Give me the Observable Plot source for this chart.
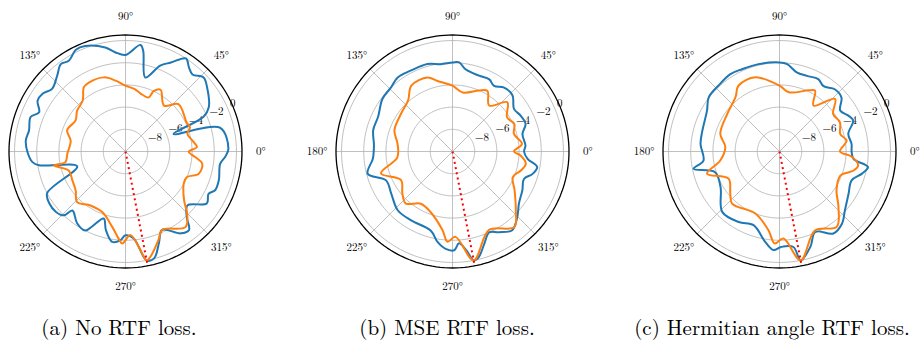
<!DOCTYPE html>
<html><head><meta charset="utf-8">
<script src="https://cdn.jsdelivr.net/npm/d3@7"></script>
<script src="https://cdn.jsdelivr.net/npm/@observablehq/plot@0.6"></script>
<style>
body{margin:0;background:#fff;}
#fig{position:relative;width:921px;height:342px;overflow:hidden;background:#fff;}
.panel{position:absolute;top:1px;width:300px;height:300px;}
.panel svg{max-width:none !important;width:300px;height:300px;}
.cap{position:absolute;width:400px;text-align:center;font-family:"Latin Modern Roman","CMU Serif","Liberation Serif","DejaVu Serif","Tinos","Noto Serif","Nimbus Roman","FreeSerif","Times New Roman","Times",serif;font-size:21px;line-height:22px;top:315px;color:#000;white-space:nowrap;}
</style></head><body><div id="fig"></div>
<script>
// ---- data: [angle in degrees, gain in dB] ----
const aBlue = [[1.5,-0.72],[14,-1.2],[20,-5.4],[24,-2.3],[28,-1.5],[38,-0.66],[43.5,-0.3],[49,-0.8],[53,-0.5],[57,0.0],[63,-1.0],[68,-1.65],[75,-3.1],[80,-0.8],[82,-0.3],[90,-1.3],[96,-1.0],[101,-0.45],[111,0.18],[116,0.2],[122,-0.36],[126.5,-0.2],[132,-0.8],[139.5,-1.3],[145,-0.9],[150,-0.85],[155.6,-1.45],[160,-0.9],[167.7,-1.1],[173.7,-0.96],[180.4,-1.17],[186.5,-1.56],[189,-2.1],[197,-5.45],[208,-2.0],[214,-1.7],[221,-1.7],[226,-2.0],[228,-2.85],[236,-2.2],[243,-2.0],[246,-2.6],[252,-3.65],[256,-2.7],[261.6,-1.77],[266.8,-2.0],[270,-2.45],[275.5,-2.1],[281,0.0],[285,-0.03],[290,-1.2],[295,-2.2],[304,-1.1],[309,-0.9],[313,-1.9],[319,-2.6],[327.4,-1.3],[333,-1.6],[336.6,-1.2],[343,-1.2],[352.6,-1.4],[357,-1.0]];
const aOrange = [[0,-4.3],[3.5,-3.55],[9.4,-3.9],[16,-4.2],[20.5,-3.8],[25.4,-3.9],[41.8,-3.6],[50,-4.6],[60.4,-3.6],[65,-4.0],[66.8,-4.7],[75.4,-4.6],[82,-4.3],[90,-4.07],[98,-3.55],[106,-3.05],[118,-2.96],[123,-3.1],[130,-4.0],[140,-4.3],[148,-4.7],[160,-4.4],[169,-4.97],[182,-4.76],[190,-4.5],[191,-3.44],[198.5,-4.6],[208.5,-4.55],[218,-4.3],[226,-3.7],[237,-4.2],[249,-4.15],[260,-3.1],[265.6,-2.1],[268,-1.7],[273.4,-2.45],[278,-1.3],[281,0.0],[283.3,-0.25],[290.5,-1.5],[295,-2.2],[308.4,-1.3],[314.7,-2.1],[320,-3.1],[331,-4.0],[337.4,-4.0],[343,-3.1],[351,-3.0],[355.4,-3.7]];
const bBlue = [[0,-3.55],[4.7,-3.4],[14,-3.5],[20.7,-2.96],[27.8,-3.06],[34.7,-3.26],[43,-2.6],[51,-2.6],[57.7,-3.0],[63,-2.7],[70.7,-2.76],[81,-2.5],[85.7,-1.95],[90,-1.98],[97.6,-2.06],[106,-1.8],[117,-1.8],[126.5,-1.7],[134,-2.0],[143,-2.1],[155,-2.6],[165,-2.6],[175.6,-2.9],[185,-2.8],[194.7,-2.1],[203.5,-3.47],[214.5,-3.3],[227,-2.76],[239,-2.76],[254.7,-2.6],[260.6,-1.74],[266,-1.2],[271,-1.1],[274,-1.7],[278,-1.0],[281,0.0],[284,-0.2],[289,-1.2],[294.4,-2.0],[300,-1.6],[307.2,-1.1],[314.7,-1.7],[322,-2.4],[331,-2.8],[339,-3.1],[344.4,-2.5],[349.6,-2.24],[354.4,-3.2]];
const bOrange = [[0,-4.46],[6.25,-3.7],[16,-4.24],[24,-3.9],[32,-4.2],[41.9,-3.36],[51.4,-4.7],[60,-3.7],[66.4,-4.0],[80,-4.6],[90,-4.07],[102,-3.5],[108.6,-2.96],[122,-3.0],[131,-3.9],[144,-4.25],[160,-4.43],[172,-5.0],[186,-5.0],[197,-3.26],[209,-4.7],[220,-4.1],[228,-3.7],[238.8,-4.5],[250,-4.2],[262.8,-2.85],[266.8,-1.85],[272,-2.3],[281,0.0],[295,-2.2],[309.2,-1.2],[317,-2.2],[328,-3.4],[337,-4.1],[344.5,-3.6],[350.5,-3.3],[356.7,-3.86]];
const cBlue = [[0,-3.5],[6,-3.47],[14.4,-3.6],[22.7,-2.8],[27.5,-3.0],[34,-3.4],[41,-2.6],[48.4,-2.5],[56,-2.9],[61.8,-2.6],[70,-2.75],[77.7,-2.7],[85,-2.1],[90,-1.98],[103.5,-1.9],[114.5,-1.85],[122.4,-1.74],[132.7,-1.9],[142.6,-1.97],[150.6,-2.5],[165,-2.8],[174.5,-2.85],[186.8,-3.1],[191.4,-2.1],[197.8,-3.9],[211,-3.8],[226.5,-2.5],[240,-2.66],[250.6,-2.96],[261,-1.76],[266.5,-1.1],[271,-1.4],[278.3,-1.3],[281,0.0],[288,-0.98],[294,-2.07],[303.3,-1.16],[311,-1.4],[318,-2.07],[328.5,-2.7],[338.2,-3.0],[345,-2.3],[350,-1.9],[354.3,-3.3]];
const cOrange = [[0,-4.55],[9.3,-3.87],[16,-4.3],[25.8,-3.95],[35,-4.1],[43.4,-3.1],[53.5,-4.85],[59.7,-3.65],[64.6,-3.9],[81,-4.6],[90,-4.07],[108,-2.97],[121.8,-3.0],[129,-3.7],[144.4,-4.2],[163.4,-4.43],[175.4,-5.1],[188.6,-4.6],[197,-3.17],[208,-4.8],[220.6,-4.16],[227.7,-3.65],[248.7,-4.0],[262,-2.84],[267,-1.7],[272.6,-2.15],[281,0.0],[294.3,-2.2],[307.2,-1.47],[316.7,-2.7],[326,-3.8],[338.4,-4.1],[345.6,-3.1],[350,-2.8],[356,-3.5]];
const steerDeg = 281;
const ringTicks = [-8, -6, -4, -2, 0];
const angleTicks = [0, 45, 90, 135, 180, 225, 270, 315];
const angleLabelsA = [0, 45, 90, 135, 225, 270, 315];
const captions = ["(a) No RTF loss.", "(b) MSE RTF loss.", "(c) Hermitian angle RTF loss."];

// ---- layout ----
const RMIN = -10, RMAX = 0.5, SPAN = RMAX - RMIN;
const PXR = 116.5, SIZE = 300, M = SIZE / 2 - PXR;
const LABEL_R = 12.2;
const rad = d => d * Math.PI / 180;
const px = (t, v) => (v - RMIN) * Math.cos(rad(t));
const py = (t, v) => (v - RMIN) * Math.sin(rad(t));
const circle = v => d3.range(0, 360, 2).map(t => ({t, v}));
const rows = arr => arr.map(([t, v]) => ({t, v}));
const X = d => px(d.t, d.v), Y = d => py(d.t, d.v);
const FONT = "'Latin Modern Roman', 'CMU Serif', 'Liberation Serif', 'DejaVu Serif', Tinos, 'Noto Serif', 'Nimbus Roman', FreeSerif, 'Times New Roman', Times, serif";

function panel(blue, orange, labels) {
  return Plot.plot({
    width: SIZE, height: SIZE, margin: M,
    x: {domain: [-SPAN, SPAN], axis: null},
    y: {domain: [-SPAN, SPAN], axis: null},
    style: {background: "transparent", overflow: "visible", fontFamily: FONT, fontSize: "11px", color: "#000", maxWidth: "none"},
    marks: [
      ...ringTicks.map(v => Plot.line(circle(v), {x: X, y: Y, curve: "linear-closed", stroke: "#b0b0b0", strokeWidth: 0.8})),
      Plot.link(angleTicks, {x1: () => 0, y1: () => 0, x2: t => px(t, RMAX), y2: t => py(t, RMAX), stroke: "#b0b0b0", strokeWidth: 0.8}),
      Plot.text(ringTicks, {x: v => px(22.5, v), y: v => py(22.5, v), text: v => v < 0 ? "\u2212" + (-v) : String(v), textAnchor: "start", dx: 2, dy: -6, fill: "#000"}),
      Plot.line(rows(blue), {x: X, y: Y, curve: "catmull-rom-closed", stroke: "#1f77b4", strokeWidth: 2}),
      Plot.line(rows(orange), {x: X, y: Y, curve: "catmull-rom-closed", stroke: "#ff7f0e", strokeWidth: 2}),
      Plot.link([steerDeg], {x1: () => 0, y1: () => 0, x2: t => px(t, RMAX), y2: t => py(t, RMAX), stroke: "red", strokeWidth: 2, strokeDasharray: "2,3.3"}),
      Plot.line(circle(RMAX), {x: X, y: Y, curve: "linear-closed", stroke: "#000", strokeWidth: 1.3}),
      Plot.text(labels, {x: t => LABEL_R * Math.cos(rad(t)), y: t => LABEL_R * Math.sin(rad(t)), text: t => t + "\u00b0", fill: "#000"})
    ]
  });
}

const fig = document.getElementById("fig");
const centers = [125, 451.5, 779];
const capCenters = [119, 447, 772];
const specs = [[aBlue, aOrange, angleLabelsA], [bBlue, bOrange, angleTicks], [cBlue, cOrange, angleTicks]];
specs.forEach(([b, o, l], i) => {
  const div = document.createElement("div");
  div.className = "panel";
  div.style.left = (centers[i] - SIZE / 2) + "px";
  div.appendChild(panel(b, o, l));
  fig.appendChild(div);
  const cap = document.createElement("div");
  cap.className = "cap";
  cap.style.left = (capCenters[i] - 200) + "px";
  cap.textContent = captions[i];
  fig.appendChild(cap);
});
</script>
</body></html>
